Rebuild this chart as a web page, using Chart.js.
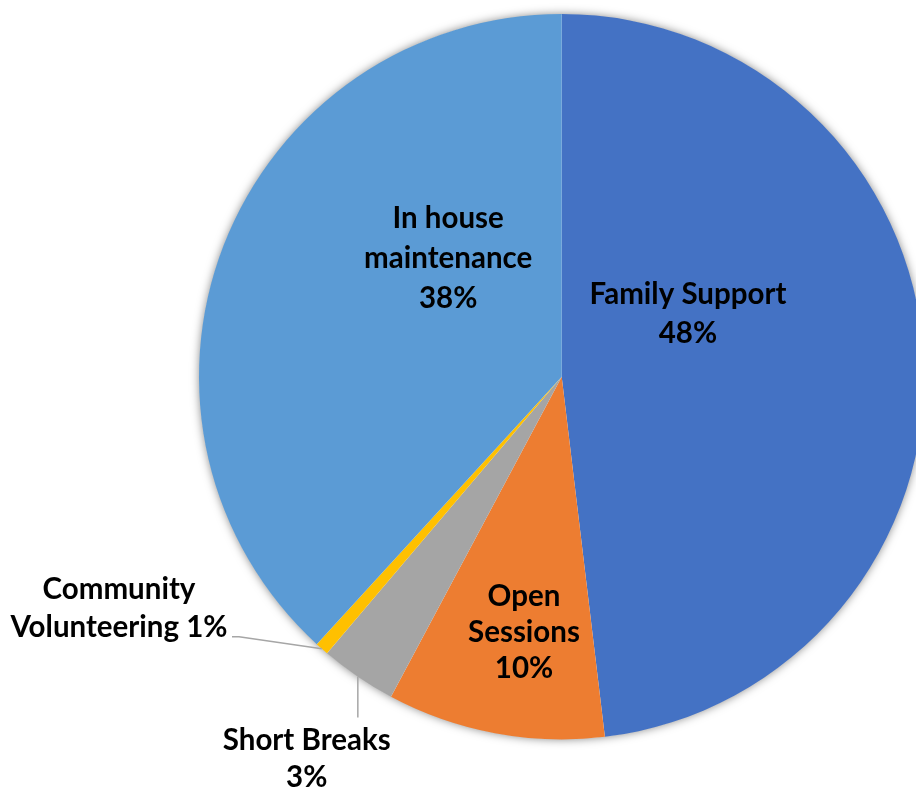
<!DOCTYPE html>
<html>
<head>
<meta charset="utf-8">
<script src="https://cdn.jsdelivr.net/npm/chart.js@4/dist/chart.umd.min.js"></script>
<style>
  html, body { margin: 0; padding: 0; background: #ffffff; overflow: hidden; }
  #wrap { position: relative; width: 930px; height: 789px; }
</style>
</head>
<body>
<div id="wrap"><canvas id="c"></canvas></div>
<script>
// ---- data ----
const categories = ["Family Support", "Open Sessions", "Short Breaks", "Community Volunteering", "In house maintenance"];
const values = [48.1, 9.7, 3.4, 0.6, 38.2];
const colors = ["#4472C4", "#ED7D31", "#A5A5A5", "#FFC000", "#5B9BD5"];
// label text lines (category words per line); percentage appended from data
const labelLines = [
  ["Family Support"],
  ["Open", "Sessions"],
  ["Short Breaks"],
  ["Community", "Volunteering"],
  ["In house", "maintenance"]
];

// ---- label layout (style): offsets from pie centre in units of radius ----
const labelStyle = [
  { dx: 0.348, dy: -0.172, lh: 39, pctOwnLine: true },
  { dx: -0.104, dy: 0.706, lh: 36, pctOwnLine: true },
  { dx: -0.703, dy: 1.053, lh: 37, pctOwnLine: true },
  { dx: -1.2206, dy: 0.640, lh: 38, pctOwnLine: false },
  { dx: -0.313, dy: -0.327, lh: 40, pctOwnLine: true }
];

const FONT = "bold 29.5px Lato, 'Open Sans', sans-serif";

const total = values.reduce((a, b) => a + b, 0);
function pct(i) { return Math.round(values[i] / total * 100) + "%"; }

const shadowPlugin = {
  id: 'shadow',
  beforeDatasetsDraw(chart) {
    const arc = chart.getDatasetMeta(0).data[0];
    if (!arc) return;
    const ctx = chart.ctx;
    ctx.save();
    ctx.shadowColor = 'rgba(0,0,0,0.5)';
    ctx.shadowBlur = 10;
    ctx.fillStyle = '#ffffff';
    ctx.beginPath();
    ctx.arc(arc.x, arc.y, arc.outerRadius - 0.5, 0, Math.PI * 2);
    ctx.fill();
    ctx.restore();
  }
};

const labelPlugin = {
  id: 'labels',
  afterDatasetsDraw(chart) {
    const meta = chart.getDatasetMeta(0);
    const ctx = chart.ctx;
    const arc0 = meta.data[0];
    const cx = arc0.x, cy = arc0.y, R = arc0.outerRadius;
    ctx.save();
    ctx.strokeStyle = '#A6A6A6';
    ctx.lineWidth = 1.5;
    // Community Volunteering leader line
    {
      const a = meta.data[3];
      const mid = (a.startAngle + a.endAngle) / 2;
      const ex = cx + Math.cos(mid) * R, ey = cy + Math.sin(mid) * R;
      const st = labelStyle[3];
      const lx = cx + st.dx * R, ly = cy + st.dy * R;
      ctx.beginPath();
      ctx.moveTo(lx + 113, ly + 28);
      ctx.lineTo(lx + 120, ly + 28);
      ctx.lineTo(ex, ey);
      ctx.stroke();
    }
    // Short Breaks leader line
    {
      const a = meta.data[2];
      const mid = (a.startAngle + a.endAngle) / 2;
      const ex = cx + Math.cos(mid) * R, ey = cy + Math.sin(mid) * R;
      const st = labelStyle[2];
      const ly = cy + st.dy * R;
      ctx.beginPath();
      ctx.moveTo(ex, ey);
      ctx.lineTo(ex, ly - 41);
      ctx.stroke();
    }
    // text
    ctx.fillStyle = '#000000';
    ctx.font = FONT;
    ctx.textAlign = 'center';
    ctx.textBaseline = 'middle';
    labelLines.forEach((lines, i) => {
      const st = labelStyle[i];
      let all = lines.slice();
      if (st.pctOwnLine) all.push(pct(i));
      else all[all.length - 1] = all[all.length - 1] + " " + pct(i);
      const x = cx + st.dx * R;
      const yc = cy + st.dy * R;
      const y0 = yc - (all.length - 1) * st.lh / 2;
      all.forEach((t, k) => ctx.fillText(t, x, y0 + k * st.lh));
    });
    ctx.restore();
  }
};

new Chart(document.getElementById('c'), {
  type: 'pie',
  data: {
    labels: categories,
    datasets: [{
      data: values,
      backgroundColor: colors,
      borderWidth: 0,
      hoverOffset: 0
    }]
  },
  options: {
    responsive: true,
    maintainAspectRatio: false,
    animation: false,
    layout: { padding: { left: 199, right: 5.6, top: 14, bottom: 49.6 } },
    plugins: {
      legend: { display: false },
      tooltip: { enabled: false },
      title: { display: false }
    }
  },
  plugins: [shadowPlugin, labelPlugin]
});
</script>
</body>
</html>
